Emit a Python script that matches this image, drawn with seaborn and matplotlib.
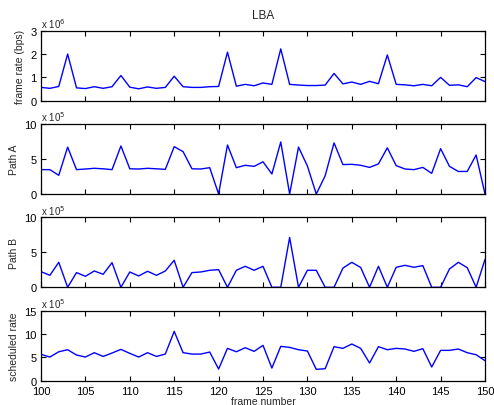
import numpy as np
import pandas as pd
import matplotlib
matplotlib.use("Agg")
import matplotlib.pyplot as plt
import seaborn as sns

frames = list(range(100, 151))

frame_rate = [0.57, 0.53, 0.61, 2.0, 0.55, 0.52, 0.6, 0.53, 0.6, 1.08,
              0.58, 0.51, 0.59, 0.53, 0.57, 1.05, 0.6, 0.57, 0.57, 0.6,
              0.61, 2.08, 0.62, 0.7, 0.64, 0.76, 0.7, 2.22, 0.7, 0.67,
              0.65, 0.65, 0.67, 1.17, 0.72, 0.8, 0.7, 0.83, 0.73, 1.96,
              0.7, 0.68, 0.64, 0.7, 0.64, 1.0, 0.66, 0.68, 0.6, 0.99, 0.82]  # x 1e6

path_a = [3.48, 3.48, 2.67, 6.7, 3.48, 3.57, 3.67, 3.6, 3.48, 6.86,
          3.6, 3.57, 3.67, 3.6, 3.52, 6.76, 6.05, 3.6, 3.57, 3.76,
          0.0, 7.0, 3.76, 4.1, 3.95, 4.6, 2.86, 7.43, 0.0, 6.7,
          4.0, 0.0, 2.6, 7.3, 4.2, 4.24, 4.1, 3.8, 4.3, 6.6,
          4.05, 3.57, 3.48, 3.8, 2.95, 6.48, 3.95, 3.22, 3.22, 5.57, 0.0]  # x 1e5

path_b = [2.24, 1.71, 3.57, 0.0, 2.1, 1.57, 2.33, 1.86, 3.52, 0.0,
          2.19, 1.62, 2.29, 1.71, 2.33, 3.86, 0.0, 2.1, 2.19, 2.43,
          2.52, 0.0, 2.43, 3.0, 2.43, 3.0, 0.0, 0.0, 7.12, 0.0,
          2.43, 2.43, 0.0, 0.0, 2.74, 3.57, 2.83, 0.0, 3.0, 0.0,
          2.86, 3.14, 2.86, 3.1, 0.0, 0.0, 2.62, 3.57, 2.8, 0.0, 3.98]  # x 1e5

sched_rate = [5.64, 5.07, 6.2, 6.64, 5.5, 5.07, 6.0, 5.2, 5.93, 6.71,
              5.86, 5.07, 6.0, 5.2, 5.71, 10.57, 6.0, 5.71, 5.71, 6.14,
              2.5, 6.93, 6.2, 7.07, 6.29, 7.57, 2.71, 7.36, 7.14, 6.64,
              6.36, 2.43, 2.57, 7.29, 6.93, 7.86, 6.93, 3.79, 7.29, 6.64,
              6.93, 6.79, 6.29, 6.86, 2.93, 6.5, 6.5, 6.79, 6.0, 5.57, 4.29]  # x 1e5

panels = [
    (frame_rate, "frame rate (bps)", 6, [0, 1, 2, 3], (0, 3)),
    (path_a, "Path A", 5, [0, 5, 10], (0, 10)),
    (path_b, "Path B", 5, [0, 5, 10], (0, 10)),
    (sched_rate, "scheduled rate", 5, [0, 5, 10, 15], (0, 15)),
]
xticks = list(range(100, 151, 5))

sns.set_style("ticks")
plt.rcParams['font.family'] = ['Liberation Sans', 'DejaVu Sans']
plt.rcParams['xtick.direction'] = 'in'
plt.rcParams['ytick.direction'] = 'in'

fig = plt.figure(figsize=(4.94, 4.06), dpi=100)
left = 41 / 494
width = 444 / 494
height = 70 / 406
bottoms_px = [101.7, 195.0, 288.3, 381.7]

for i, (vals, ylabel, exp, yt, ylim) in enumerate(panels):
    ax = fig.add_axes([left, 1 - bottoms_px[i] / 406, width, height])
    df = pd.DataFrame({"frame": frames, "value": vals})
    sns.lineplot(data=df, x="frame", y="value", ax=ax, color="#0000ff", linewidth=1.0)
    ax.set_xlim(100, 150)
    ax.set_ylim(*ylim)
    ax.set_xticks(xticks)
    ax.set_yticks(yt)
    ax.tick_params(axis='both', which='both', direction='in', top=True, right=True,
                   length=3.5, width=0.8, labelsize=8, colors='black')
    ax.tick_params(axis='y', pad=3)
    ax.tick_params(axis='x', pad=3.5)
    for s in ax.spines.values():
        s.set_visible(True)
        s.set_linewidth(0.9)
        s.set_color('black')
    ax.set_ylabel(ylabel, fontsize=7.5, labelpad=4)
    if i < 3:
        ax.set_xticklabels([])
        ax.set_xlabel("")
    else:
        ax.set_xlabel("frame number", fontsize=7.5)
        ax.xaxis.set_label_coords(0.5, -15.5 / 70, transform=ax.transAxes)
        ax.xaxis.label.set_va('top')
    ax.text(0.0, 1.01, r"x 10$^{%d}$" % exp, transform=ax.transAxes,
            fontsize=7, ha='left', va='bottom')
    if i == 0:
        ax.set_title("LBA", fontsize=8.5, pad=9)

fig.savefig("out.png", dpi=100)
